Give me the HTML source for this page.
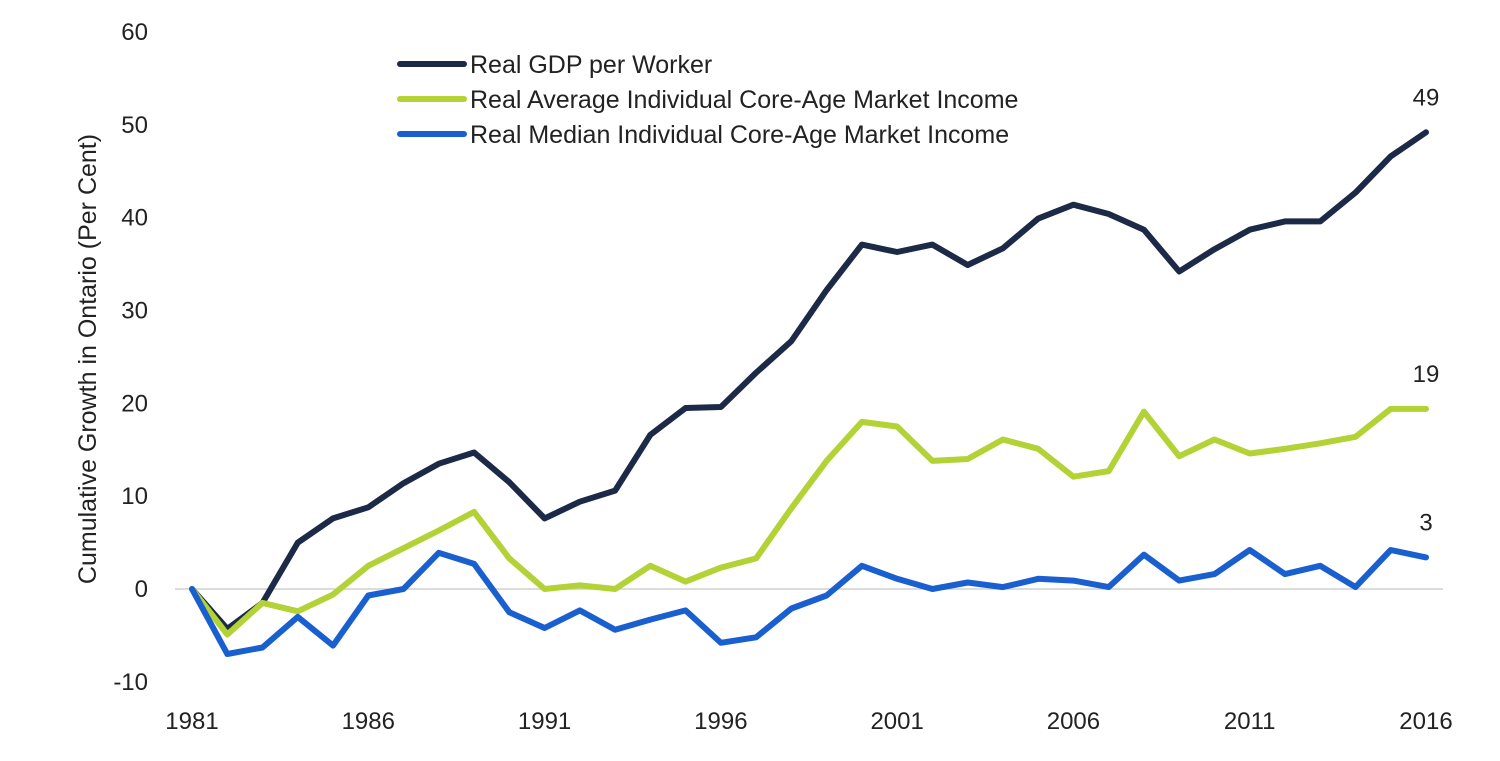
<!DOCTYPE html>
<html><head><meta charset="utf-8"><style>
html,body{margin:0;padding:0;background:#fff;}
svg{display:block;font-family:"Liberation Sans",sans-serif;}
</style></head><body>
<svg id="chart" width="1500" height="761">
<g id="axes"></g><g id="series"></g>
<g font-size="25" fill="#222">
 <line x1="400" y1="64" x2="464" y2="64" stroke="#1c2a48" stroke-width="6" stroke-linecap="round"/>
 <text x="470" y="73">Real GDP per Worker</text>
 <line x1="400" y1="99" x2="464" y2="99" stroke="#b2d235" stroke-width="6" stroke-linecap="round"/>
 <text x="470" y="108">Real Average Individual Core-Age Market Income</text>
 <line x1="400" y1="134" x2="464" y2="134" stroke="#1a5fd0" stroke-width="6" stroke-linecap="round"/>
 <text x="470" y="143">Real Median Individual Core-Age Market Income</text>
</g>
<text transform="translate(96,359) rotate(-90)" text-anchor="middle" font-size="25" fill="#222">Cumulative Growth in Ontario (Per Cent)</text>
</svg>
<script>
const years=[];for(let y=1981;y<=2016;y++)years.push(y);
const gdp=[0,-4.3,-1.5,5,7.6,8.8,11.4,13.5,14.7,11.5,7.6,9.4,10.6,16.6,19.5,19.6,23.3,26.7,32.2,37.1,36.3,37.1,34.9,36.7,39.9,41.4,40.4,38.7,34.2,36.6,38.7,39.6,39.6,42.7,46.6,49.2];
const avgIncome=[0,-4.9,-1.5,-2.4,-0.6,2.5,4.4,6.3,8.3,3.3,0,0.4,0,2.5,0.8,2.3,3.3,8.7,13.8,18,17.5,13.8,14,16.1,15.1,12.1,12.7,19.1,14.3,16.1,14.6,15.1,15.7,16.4,19.4,19.4];
const medIncome=[0,-7,-6.3,-3,-6.1,-0.7,0,3.9,2.7,-2.5,-4.2,-2.3,-4.4,-3.3,-2.3,-5.8,-5.2,-2.1,-0.7,2.5,1.1,0,0.7,0.2,1.1,0.9,0.2,3.7,0.9,1.6,4.2,1.6,2.5,0.2,4.2,3.4];
const yTicks=[-10,0,10,20,30,40,50,60];
const xTicks=[1981,1986,1991,1996,2001,2006,2011,2016];
const endLabels=["49","19","3"];
const NS="http://www.w3.org/2000/svg";
const xs=y=>192+(y-1981)*(1426-192)/35;
const ys=v=>589-v*(589-32)/60;
function mk(t,a,p){const e=document.createElementNS(NS,t);for(const k in a)e.setAttribute(k,a[k]);p.appendChild(e);return e;}
const ax=document.getElementById('axes'),se=document.getElementById('series');
const zl=mk('line',{x1:175,x2:1443,y1:ys(0),y2:ys(0),stroke:'#d0d0d0','stroke-width':1.5},ax);


yTicks.forEach(v=>{const t=mk('text',{x:148,y:ys(v)+8,'text-anchor':'end','font-size':24,fill:'#222'},ax);t.textContent=v;

});
xTicks.forEach(v=>{const t=mk('text',{x:xs(v),y:729,'text-anchor':'middle','font-size':24,fill:'#222'},ax);t.textContent=v;

});
const defs=[[gdp,'#1c2a48','gdp-line'],[avgIncome,'#b2d235','average-income-line'],[medIncome,'#1a5fd0','median-income-line']];
defs.forEach((d,i)=>{const pts=d[0].map((v,j)=>xs(years[j]).toFixed(1)+','+ys(v).toFixed(1)).join(' ');
const p=mk('polyline',{points:pts,fill:'none',stroke:d[1],'stroke-width':6,'stroke-linejoin':'round','stroke-linecap':'round'},se);


const last=d[0][d[0].length-1];
const t=mk('text',{x:xs(2016),y:ys(last)-27,'text-anchor':'middle','font-size':24,fill:'#222'},se);t.textContent=endLabels[i];

});
</script>
</body></html>
